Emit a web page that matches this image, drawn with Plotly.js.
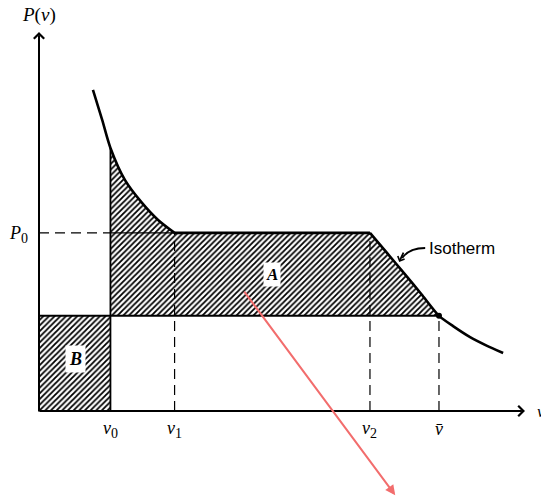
<!DOCTYPE html>
<html>
<head>
<meta charset="utf-8">
<script src="https://cdn.plot.ly/plotly-3.0.1.min.js"></script>
<style>html,body{margin:0;padding:0;background:#fff;}#chart{width:541px;height:502px;}</style>
</head>
<body>
<div id="chart"></div>
<script>
// Characteristic volumes and pressures (arbitrary units)
const v0 = 1.47, v1 = 2.79, v2 = 6.81, vBar = 8.23;
const P0 = 4.70, PBar = 2.51;
// Isotherm branches
const vIsoLeft  = [1.11, 1.30, 1.47, 1.77, 2.12, 2.45, 2.79];
const pIsoLeft  = [8.47, 7.68, 6.94, 6.09, 5.49, 5.04, 4.70];
const vIsoRight = [6.81, 7.16, 7.51, 7.87, 8.23, 8.52, 8.87, 9.22, 9.55];
const pIsoRight = [4.70, 4.17, 3.64, 3.08, 2.51, 2.24, 1.95, 1.72, 1.53];
// Tick labels
const sub = s => '<sub><span style="font-size:14px">' + s + '</span></sub>';
const tickVals = [v0, v1, v2, vBar];
const tickText = ['<i>v</i>' + sub('0'), '<i>v</i>' + sub('1'), '<i>v</i>' + sub('2'), '<i>v\u0304</i>'];

const pattern = {shape: '/', fgcolor: '#000', bgcolor: '#fff', size: 4, solidity: 0.45};

// Region A polygon built from the isotherm data
const Ax = [], Ay = [];
vIsoLeft.forEach((v, i) => { if (v >= v0) { Ax.push(v); Ay.push(pIsoLeft[i]); } });
vIsoRight.forEach((v, i) => { if (v <= vBar) { Ax.push(v); Ay.push(pIsoRight[i]); } });
Ax.push(v0); Ay.push(PBar);
Ax.push(Ax[0]); Ay.push(Ay[0]);
const pAtV0 = pIsoLeft[vIsoLeft.indexOf(v0)];

const traces = [
  {x: Ax, y: Ay, mode: 'lines', fill: 'toself', fillcolor: '#fff', fillpattern: pattern, line: {width: 0}, hoverinfo: 'skip'},
  {x: [0, v0, v0, 0, 0], y: [0, 0, PBar, PBar, 0], mode: 'lines', fill: 'toself', fillcolor: '#fff', fillpattern: pattern, line: {width: 0}, hoverinfo: 'skip'},
  {x: [0, v0], y: [P0, P0], mode: 'lines', line: {color: '#000', width: 1.2, dash: '10px,6px'}},
  {x: [v0, v1], y: [P0, P0], mode: 'lines', line: {color: '#000', width: 1.2}},
  {x: [v1, v1], y: [0, P0], mode: 'lines', line: {color: '#000', width: 1.2, dash: '10px,6px'}},
  {x: [v2, v2], y: [0, P0], mode: 'lines', line: {color: '#000', width: 1.2, dash: '10px,6px'}},
  {x: [vBar, vBar], y: [0, PBar], mode: 'lines', line: {color: '#000', width: 1.2, dash: '10px,6px'}},
  {x: [0, vBar], y: [PBar, PBar], mode: 'lines', line: {color: '#000', width: 2}},
  {x: [v0, v0], y: [0, pAtV0], mode: 'lines', line: {color: '#000', width: 1.8}},
  {x: vIsoLeft, y: pIsoLeft, mode: 'lines', line: {color: '#000', width: 2.6, shape: 'spline', smoothing: 0.8}},
  {x: [v1, v2], y: [P0, P0], mode: 'lines', line: {color: '#000', width: 2.6}},
  {x: vIsoRight, y: pIsoRight, mode: 'lines', line: {color: '#000', width: 2.6, shape: 'spline', smoothing: 0.6}},
  {x: [vBar], y: [PBar], mode: 'markers', marker: {color: '#000', size: 6}}
];

const serif = 'Liberation Serif, Times New Roman, serif';
const annotations = [];
annotations.push({x: 0, y: 10, ax: 0, ay: -0.05, xref: 'x', yref: 'y', axref: 'x', ayref: 'y', text: '', showarrow: true, arrowhead: 4, arrowsize: 1, arrowwidth: 2, arrowcolor: '#000'});
annotations.push({x: 10, y: 0, ax: -0.02, ay: 0, xref: 'x', yref: 'y', axref: 'x', ayref: 'y', text: '', showarrow: true, arrowhead: 4, arrowsize: 1, arrowwidth: 2, arrowcolor: '#000'});
tickVals.forEach((v, i) => annotations.push({x: v, y: 0, xref: 'x', yref: 'y', yshift: -18, text: tickText[i], showarrow: false, font: {family: serif, size: 18, color: '#000'}}));
annotations.push({x: 0, y: P0, xref: 'x', yref: 'y', xshift: -21, yshift: -2, text: '<i>P</i>' + sub('0'), showarrow: false, font: {family: serif, size: 18, color: '#000'}});
annotations.push({x: 0, y: 10, xref: 'x', yref: 'y', yshift: 17, text: '<i>P</i>(<i>v</i>)', showarrow: false, font: {family: serif, size: 19, color: '#000'}});
annotations.push({x: 10, y: 0, xref: 'x', yref: 'y', xshift: 10, xanchor: 'left', text: '<i>v</i>', showarrow: false, font: {family: serif, size: 17, color: '#000'}});
annotations.push({x: 4.80, y: 3.61, xref: 'x', yref: 'y', text: '<b><i>A</i></b>', showarrow: false, bgcolor: '#fff', borderpad: 2, font: {family: serif, size: 17, color: '#000'}});
annotations.push({x: 0.76, y: 1.37, xref: 'x', yref: 'y', text: '<b><i>B</i></b>', showarrow: false, bgcolor: '#fff', borderpad: 3, font: {family: serif, size: 18, color: '#000'}});

// Isotherm label: pointer tip on the v2 -> vBar branch of the isotherm
const tipV = vIsoRight[0] + 0.8 * (vIsoRight[2] - vIsoRight[0]);
const tipP = pIsoRight[0] + 0.8 * (pIsoRight[2] - pIsoRight[0]);
const PXX = 10 / 486, PXY = 10 / 379; // data units per pixel
const pt = (dx, dy) => (tipV + dx * PXX) + ',' + (tipP - dy * PXY);
annotations.push({x: tipV + 2 * PXX, y: tipP + 3 * PXY, xref: 'x', yref: 'y', ax: 5, ay: -11, text: '', showarrow: true, arrowhead: 4, arrowsize: 0.8, arrowwidth: 1.8, arrowcolor: '#000'});
annotations.push({x: tipV, y: tipP, xref: 'x', yref: 'y', xshift: 30, yshift: 17, xanchor: 'left', text: 'Isotherm', showarrow: false, font: {family: 'Liberation Sans, Arial, sans-serif', size: 17, color: '#000'}});
annotations.push({x: 7.33, y: -2.22, ax: 4.20, ay: 3.19, xref: 'x', yref: 'y', axref: 'x', ayref: 'y', text: '', showarrow: true, arrowhead: 2, arrowsize: 1, arrowwidth: 2, arrowcolor: '#f26d6d'});

const shapes = [
  {type: 'path', xref: 'x', yref: 'y', path: 'M ' + pt(28, -17) + ' Q ' + pt(12, -17) + ' ' + pt(5, -7), line: {color: '#000', width: 1.8}}
];

const layout = {
  width: 541, height: 502,
  margin: {l: 39, r: 16, t: 32, b: 91},
  paper_bgcolor: '#fff', plot_bgcolor: '#fff',
  showlegend: false,
  xaxis: {range: [0, 10], visible: false, fixedrange: true},
  yaxis: {range: [0, 10], visible: false, fixedrange: true},
  annotations: annotations,
  shapes: shapes
};

Plotly.newPlot('chart', traces, layout, {displayModeBar: false, staticPlot: true});
</script>
</body>
</html>
